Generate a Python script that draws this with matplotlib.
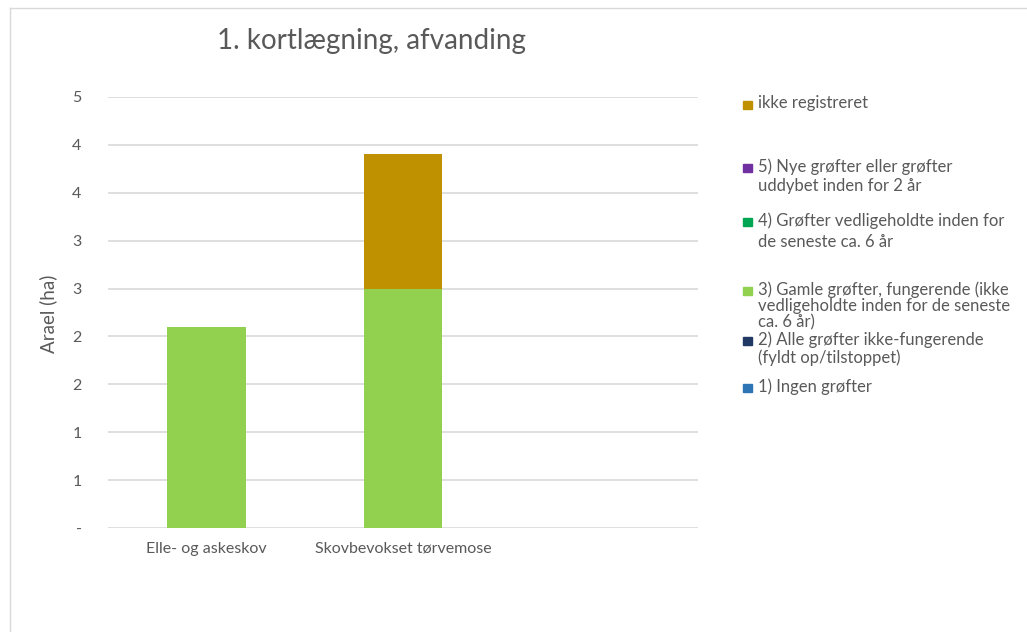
import numpy as np
import matplotlib.pyplot as plt
from matplotlib.patches import Rectangle
from matplotlib.lines import Line2D

# data (ha)
categories = ["Elle- og askeskov", "Skovbevokset tørvemose", ""]
series_names = [
    "1) Ingen grøfter",
    "2) Alle grøfter ikke-fungerende\n(fyldt op/tilstoppet)",
    "3) Gamle grøfter, fungerende (ikke\nvedligeholdte inden for de seneste\nca. 6 år)",
    "4) Grøfter vedligeholdte inden for\nde seneste ca. 6 år",
    "5) Nye grøfter eller grøfter\nuddybet inden for 2 år",
    "ikke registreret",
]
s1 = [0.0, 0.0, 0.0]
s2 = [0.0, 0.0, 0.0]
s3 = [2.1, 2.5, 0.0]
s4 = [0.0, 0.0, 0.0]
s5 = [0.0, 0.0, 0.0]
s_ikke = [0.0, 1.4, 0.0]
yticks = [0, 0.5, 1, 1.5, 2, 2.5, 3, 3.5, 4, 4.5]
ytick_labels = ["-", "1", "1", "2", "2", "3", "3", "4", "4", "5"]

colors = ["#2E75B6", "#203864", "#92D050", "#00A651", "#7030A0", "#BF9000"]
txt = "#595959"
font = "Lato"

fig = plt.figure(figsize=(10.27, 6.32), dpi=100)
W, H = 1027, 632
ax = fig.add_axes([108 / W, 1 - 528 / H, 590 / W, 431 / H])

x = np.arange(len(categories))
bottom = np.zeros(len(categories))
for vals, col in zip([s1, s2, s3, s4, s5, s_ikke], colors):
    ax.bar(x, vals, 0.4, bottom=bottom, color=col, zorder=3)
    bottom += np.array(vals)

ax.set_xlim(-0.5, len(categories) - 0.5)
ax.set_ylim(0, 4.5)
ax.set_yticks(yticks)
ax.set_yticklabels(ytick_labels)
ax.set_xticks(x)
ax.set_xticklabels(categories)
ax.yaxis.grid(True, color="#D9D9D9", linewidth=1.2, zorder=0)
for s in ax.spines.values():
    s.set_visible(False)
ax.tick_params(axis="both", length=0, colors=txt, labelsize=11.5)
ax.tick_params(axis="y", pad=19)
ax.tick_params(axis="x", pad=10)
for lab in ax.get_xticklabels() + ax.get_yticklabels():
    lab.set_fontfamily(font)

fig.text(371 / W, 1 - 41 / H, "1. kortlægning, afvanding", ha="center", va="center",
         fontsize=20, color=txt, family=font)
fig.text(48 / W, 1 - 314 / H, "Arael (ha)", ha="center", va="center", rotation=90,
         fontsize=13.5, color=txt, family=font)

# legend, drawn by hand to keep Excel's uneven spacing
leg_y = [388, 341, 291, 222, 168, 105]
leg_ls = [1.2, 1.15, 1.02, 1.4, 1.25, 1.2]
for name, col, yy, ls in zip(series_names, colors, leg_y, leg_ls):
    fig.add_artist(Rectangle((743 / W, 1 - (yy + 4) / H), 9 / W, 8 / H,
                             transform=fig.transFigure, color=col))
    fig.text(758 / W, 1 - (yy - 10) / H, name, ha="left", va="top", fontsize=12,
             color=txt, family=font, linespacing=ls)

# chart border
fig.add_artist(Line2D([10 / W, 10 / W], [0, 1 - 8 / H], transform=fig.transFigure,
                      color="#D9D9D9", linewidth=1))
fig.add_artist(Line2D([10 / W, 1], [1 - 8 / H, 1 - 8 / H], transform=fig.transFigure,
                      color="#D9D9D9", linewidth=1))

fig.savefig("out.png", dpi=100)
